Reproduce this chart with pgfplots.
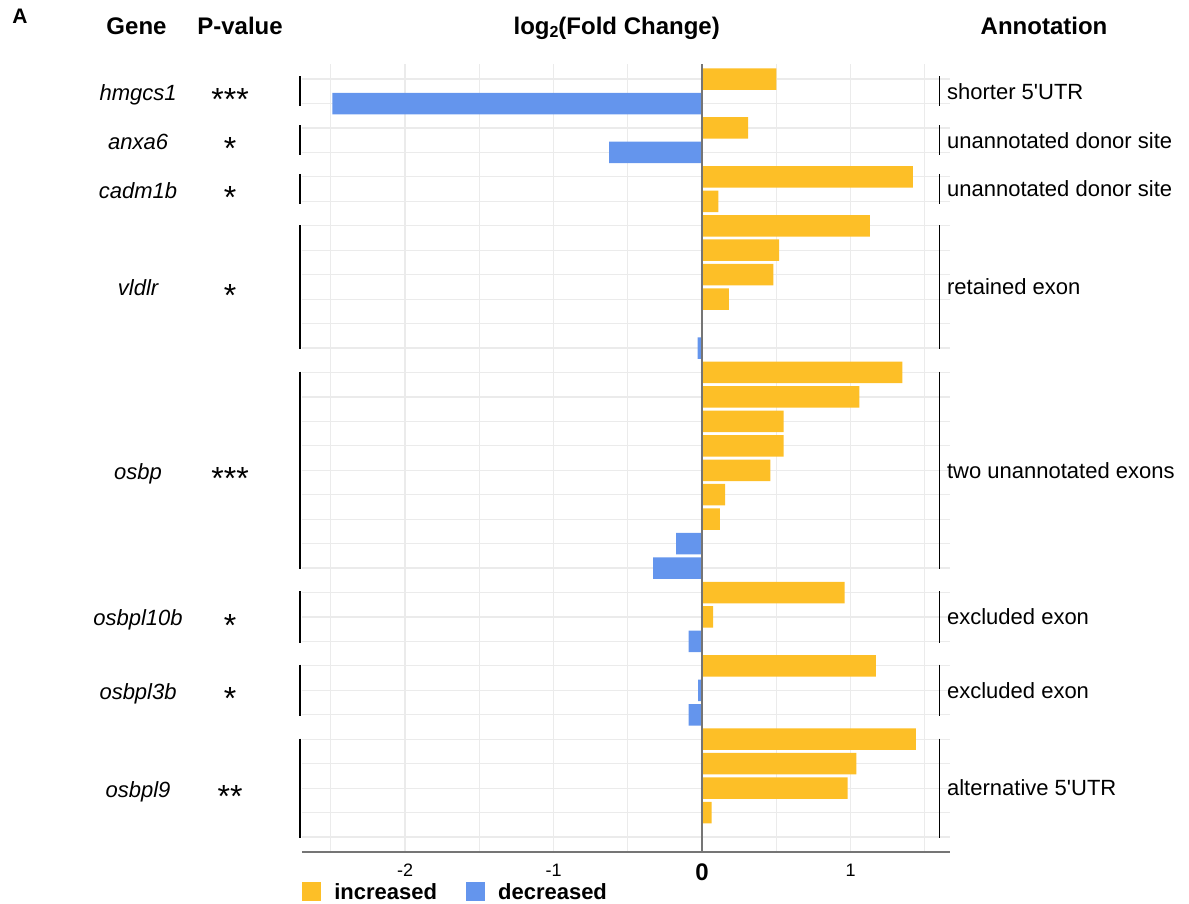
\documentclass[border=0pt]{standalone}
\usepackage{fontspec}
\setmainfont{Liberation Sans}
\usepackage{pgfplots}
\pgfplotsset{compat=1.18}

\definecolor{incr}{RGB}{253,191,39}
\definecolor{decr}{RGB}{100,149,237}
\definecolor{gridgray}{RGB}{235,235,235}
\definecolor{axgray}{RGB}{117,117,117}

% group: first row, last row (bracket ends), centre row, gene, stars, annotation
\newcommand{\grp}[6]{%
  \draw[line width=0.9pt] (axis cs:-2.705,#1) -- (axis cs:-2.705,#2);
  \draw[line width=0.9pt] (axis cs:1.599,#1) -- (axis cs:1.599,#2);
  \node[anchor=base, font=\fontsize{11}{13}\selectfont\itshape, yshift=-4.5pt] at (axis cs:-3.798,#3) {#4};
  \node[anchor=base, font=\fontsize{16}{18}\selectfont, yshift=-9.6pt] at (axis cs:-3.178,#3) {#5};
  \node[anchor=west, font=\fontsize{11}{13}\selectfont, inner sep=0pt] at (axis cs:1.648,#3) {#6};
}

\begin{document}
\begin{tikzpicture}
\path[use as bounding box] (-151pt,-26.15pt) rectangle (443.5pt,425.85pt);
\begin{axis}[
  at={(0,0)}, anchor=south west,
  scale only axis, width=324pt, height=393.65pt,
  xmin=-2.694, xmax=1.670, ymin=0.4, ymax=32.6,
  y dir=reverse,
  xbar, bar width=10.75pt,
  clip=false,
  xtick={-2,-1,0,1},
  xticklabels={-2,-1,{\fontsize{12}{12}\selectfont\bfseries 0},1},
  minor xtick={-2.5,-1.5,-0.5,0.5,1.5},
  ytick={1,...,32}, yticklabels={},
  xmajorgrids, xminorgrids, ymajorgrids,
  grid style={gridgray, line width=0.6pt},
  minor grid style={gridgray, line width=0.6pt},
  major tick length=0pt, minor tick length=0pt,
  axis x line*=bottom, axis y line*=left,
  x axis line style={axgray, line width=1pt, -},
  y axis line style={draw=none},
  xticklabel style={font=\fontsize{9}{10}\selectfont, yshift=-2.5pt},
  legend style={at={(-0.0093,-0.031)}, anchor=north west, draw=none, fill=none,
    legend columns=2, font=\fontsize{11}{13}\selectfont\bfseries,
    nodes={inner sep=1.5pt, text depth=0pt},
    /tikz/every odd column/.append style={column sep=5pt},
    /tikz/every even column/.append style={column sep=13pt}},
  legend image code/.code={\fill[#1] (0pt,-4.75pt) rectangle (9.5pt,4.75pt);},
]
% increased
\addplot[fill=incr, draw=none, bar shift=0pt] coordinates {
  (0.50,1) (0.31,3) (1.42,5) (0.11,6) (1.13,7) (0.52,8) (0.48,9) (0.18,10)
  (1.35,13) (1.06,14) (0.55,15) (0.55,16) (0.46,17) (0.155,18) (0.12,19)
  (0.96,22) (0.075,23) (1.17,25) (1.44,28) (1.04,29) (0.98,30) (0.065,31)
};
% decreased
\addplot[fill=decr, draw=none, bar shift=0pt] coordinates {
  (-2.49,2) (-0.625,4) (-0.03,12) (-0.175,20) (-0.33,21)
  (-0.09,24) (-0.027,26) (-0.09,27)
};
\legend{increased, decreased}

\draw[axgray, line width=1pt] (axis cs:0,0.4) -- (axis cs:0,32.6);

\grp{0.88}{2.12}{1.5}{hmgcs1}{***}{shorter 5\textquotesingle UTR}
\grp{2.88}{4.12}{3.5}{anxa6}{*}{unannotated donor site}
\grp{4.88}{6.12}{5.5}{cadm1b}{*}{unannotated donor site}
\grp{6.97}{12.04}{9.5}{vldlr}{*}{retained exon}
\grp{12.97}{21.04}{17}{osbp}{***}{two unannotated exons}
\grp{21.95}{24.05}{23}{osbpl10b}{*}{excluded exon}
\grp{24.95}{27.05}{26}{osbpl3b}{*}{excluded exon}
\grp{27.97}{32.04}{30}{osbpl9}{**}{alternative 5\textquotesingle UTR}
\end{axis}

\node[anchor=base west, font=\fontsize{10.5}{12}\selectfont\bfseries, inner sep=0pt] at (-145pt,413.85pt) {A};
\node[anchor=base, font=\fontsize{12}{14}\selectfont\bfseries] at (-82.75pt,408.6pt) {Gene};
\node[anchor=base, font=\fontsize{12}{14}\selectfont\bfseries] at (-31pt,408.6pt) {P-value};
\node[anchor=base, font=\fontsize{12}{14}\selectfont\bfseries] at (157.35pt,408.6pt)
  {log\raisebox{-0.2ex}{\fontsize{8}{8}\selectfont 2}(Fold Change)};
\node[anchor=base, font=\fontsize{12}{14}\selectfont\bfseries] at (371pt,408.6pt) {Annotation};
\end{tikzpicture}
\end{document}
